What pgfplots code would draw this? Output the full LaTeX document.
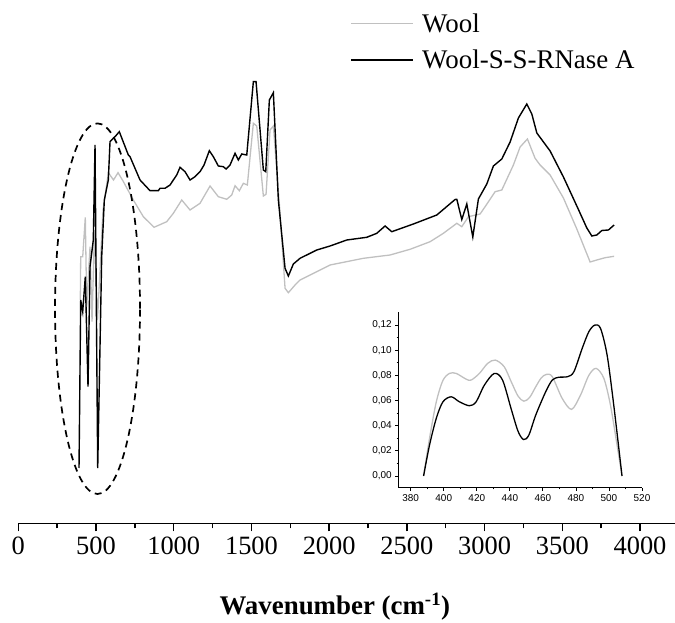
\documentclass[border=0pt]{standalone}
\usepackage{pgfplots}
\pgfplotsset{compat=1.18}
\usepackage{pgfplotstable}
\usepackage{fontspec}
\setmainfont{Liberation Serif}
\newfontfamily\insetfont{Liberation Sans}
\definecolor{woolgray}{RGB}{192,192,192}

% FTIR spectra (arbitrary absorbance units, offset for display)
\pgfplotstableread{
x y
399.0 223.3
401.5 266.6
414.4 266.6
431.1 306.0
440.2 216.6
461.4 276.6
474.3 201.6
490.3 293.3
509.7 203.3
545.0 313.3
557.9 326.6
579.2 350.6
612.6 343.3
641.6 350.6
673.8 342.3
740.0 323.3
804.4 306.6
873.2 296.0
954.9 301.6
997.4 310.0
1051.5 323.3
1104.9 313.3
1169.2 320.0
1233.6 337.3
1287.0 326.6
1341.0 324.0
1373.2 328.3
1394.5 337.6
1422.1 332.6
1447.9 340.0
1473.6 338.3
1512.2 400.0
1534.1 397.3
1576.6 327.3
1593.9 329.0
1619.6 393.3
1641.0 397.3
1684.1 310.0
1716.2 235.0
1737.5 230.6
1780.6 238.3
1812.7 243.3
1920.2 251.6
2005.8 258.3
2220.1 265.0
2391.9 268.3
2520.6 274.0
2649.4 281.6
2734.9 290.0
2821.2 300.0
2853.3 296.6
2895.8 306.6
2971.1 309.3
3003.2 316.6
3067.6 331.6
3110.7 333.3
3185.3 358.3
3228.4 376.3
3275.4 384.3
3324.9 365.0
3357.1 358.3
3421.5 348.3
3507.1 325.3
3593.3 294.3
3678.9 261.3
3722.0 263.3
3775.4 265.6
3833.3 267.0
}\wool

\pgfplotstableread{
x y
390.6 55.3
401.5 223.3
414.4 211.6
431.1 246.6
448.5 136.6
461.4 256.6
482.6 283.3
493.6 378.3
510.9 55.3
536.6 266.6
553.4 323.3
579.2 343.3
590.1 381.6
622.3 386.6
649.9 391.6
707.9 368.3
718.8 366.6
783.1 343.3
847.5 332.6
900.9 332.6
911.8 335.0
944.0 335.0
976.2 338.3
997.4 343.3
1019.3 348.3
1040.5 356.0
1072.7 351.6
1104.9 343.3
1137.1 346.6
1169.2 351.6
1195.0 358.3
1229.1 372.6
1254.8 366.6
1287.0 357.3
1319.2 356.6
1336.6 354.3
1362.3 358.3
1394.5 370.0
1415.7 363.3
1437.6 369.3
1469.8 368.3
1512.2 441.6
1529.6 441.6
1576.6 353.3
1592.0 351.6
1615.2 423.3
1641.0 430.6
1673.1 323.3
1716.2 255.0
1737.5 247.3
1769.6 259.3
1812.7 265.0
1920.2 273.3
2005.8 277.3
2113.3 283.3
2241.9 286.0
2306.3 290.0
2359.7 297.3
2402.8 291.6
2541.8 299.3
2692.4 308.3
2810.2 323.8
2821.2 324.0
2853.3 303.8
2885.5 319.3
2924.1 286.3
2960.1 324.3
3014.2 339.3
3056.6 357.3
3110.7 364.3
3164.1 381.3
3217.5 405.3
3271.6 419.3
3303.8 409.3
3336.0 390.3
3421.5 372.3
3507.1 346.3
3593.3 317.3
3657.7 295.3
3689.9 287.3
3722.0 288.3
3754.2 292.8
3796.7 293.3
3833.3 298.3
}\woolrnase

% Baseline-corrected 386--509 cm^-1 band
\pgfplotstableread{
x y
387.8 0.000
391.4 0.030
395.5 0.059
399.5 0.076
403.5 0.0816
407.5 0.0816
413.6 0.077
416.6 0.0763
421.6 0.0816
426.6 0.0896
431.2 0.0922
436.6 0.0869
441.0 0.0745
445.0 0.0635
448.5 0.0595
452.0 0.0625
455.7 0.071
459.0 0.078
462.1 0.0808
465.7 0.079
471.7 0.0617
477.4 0.053
482.8 0.0644
487.8 0.080
492.2 0.0856
496.9 0.0777
500.9 0.0564
504.9 0.0246
507.9 0.000
}\woolband

\pgfplotstableread{
x y
387.8 0.000
391.4 0.0246
395.5 0.0459
399.5 0.059
404.5 0.063
409.5 0.059
415.5 0.0559
419.6 0.059
424.6 0.0723
430.6 0.0816
435.6 0.0763
441.0 0.0525
445.0 0.0355
448.3 0.029
451.5 0.0325
455.7 0.0485
461.7 0.067
465.7 0.0763
469.5 0.0785
475.0 0.0790
478.8 0.083
483.8 0.1015
487.8 0.1147
491.4 0.120
494.9 0.1174
498.9 0.096
502.9 0.0564
507.9 0.000
}\woolrnaseband

\begin{document}
\begin{tikzpicture}
\useasboundingbox (0,0) rectangle (675bp,623bp);

\begin{axis}[
  at={(18.3bp,99.7bp)}, anchor=south west, scale only axis,
  width=656.7bp, height=523.3bp,
  xmin=0, xmax=4225, ymin=0, ymax=523.3,
  axis x line*=bottom, hide y axis,
  axis line style={-, line width=1.4bp},
  xtick={0,500,...,4000}, minor x tick num=1,
  tick align=outside, major tick length=8bp, minor tick length=5bp,
  tick style={black, line width=1.4bp},
  /pgf/number format/assume math mode=true,
  /pgf/number format/set thousands separator={},
  xticklabel style={font=\fontsize{26.5}{30}\selectfont, yshift=-2bp},
  xlabel={\textbf{Wavenumber (cm\textsuperscript{-1})}},
  xlabel style={font=\fontsize{27}{30}\selectfont,
    at={(axis description cs:0.482,-0.175)}, anchor=base},
  clip=false,
]
\addplot[woolgray, line width=1.3bp] table {\wool};
\addplot[black, line width=1.4bp] table {\woolrnase};
\draw[black, line width=1.7bp, dash pattern=on 7bp off 5bp]
  (axis cs:509.7,214.6) ellipse [x radius=42.5bp, y radius=185.3bp];
\end{axis}

\begin{axis}[
  at={(398.3bp,135.3bp)}, anchor=south west, scale only axis,
  width=243.7bp, height=175.4bp,
  xmin=372.5, xmax=520, ymin=-0.0093, ymax=0.1302,
  axis lines*=left, axis line style={-, line width=0.8bp},
  tick align=outside, major tick length=3bp, minor tick length=1.8bp,
  tick style={black, line width=0.8bp},
  xtick={380,400,...,520}, minor x tick num=1,
  ytick={0,0.02,0.04,0.06,0.08,0.1,0.12}, minor y tick num=1,
  /pgf/number format/assume math mode=true,
  ticklabel style={font=\insetfont\fontsize{10}{12}\selectfont},
  yticklabel style={/pgf/number format/.cd, fixed, fixed zerofill, precision=2, use comma},
  clip=false,
]
\addplot[woolgray, line width=1.3bp, smooth] table {\woolband};
\addplot[black, line width=1.3bp, smooth] table {\woolrnaseband};
\end{axis}

% legend
\draw[woolgray, line width=1.3bp] (351bp,599.7bp) -- (413bp,599.7bp);
\node[anchor=base west, inner sep=0, font=\fontsize{27}{30}\selectfont] at (422bp,590bp) {Wool};
\draw[black, line width=1.4bp] (351bp,563bp) -- (413bp,563bp);
\node[anchor=base west, inner sep=0, font=\fontsize{27}{30}\selectfont] at (422bp,554.7bp) {Wool-S-S-RNase A};
\end{tikzpicture}
\end{document}
